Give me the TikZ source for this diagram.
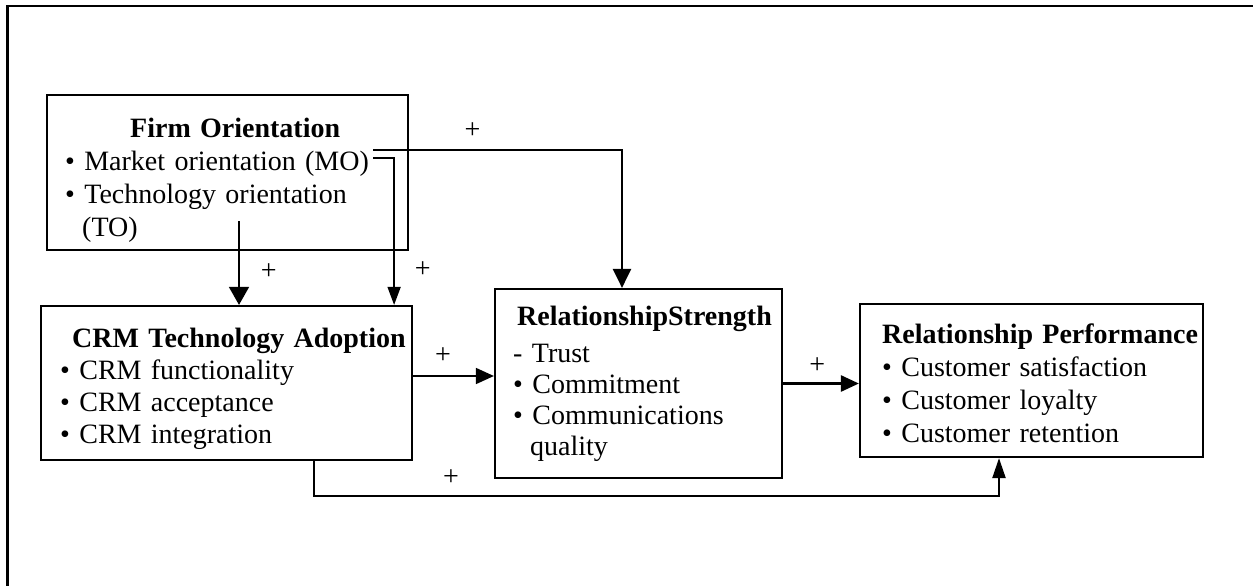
\documentclass[tikz,border=0pt]{standalone}
\usepackage{fontspec}
\setmainfont{Liberation Serif}
\usetikzlibrary{arrows.meta}

\tikzset{
    box/.style={draw, line width=2.2pt, inner sep=0pt},
    txt/.style={anchor=base west, align=left, inner sep=0pt,
        font=\fontsize{28}{33}\selectfont},
    flow/.style={-{Triangle[length=18pt,width=16pt]}, line width=1.6pt},
    plus/.style={inner sep=0pt, font=\fontsize{28}{28}\selectfont}
}

\begin{document}
\begin{tikzpicture}[x=1pt, y=-1pt]

    \useasboundingbox (0,0) rectangle (1253,586);
    \draw[line width=2.5pt] (7.5,600) -- (7.5,6) -- (1260,6);

    % boxes
    \node[box, minimum width=361, minimum height=155] (firm) at (227.5,172.5) {};
    \node[box, minimum width=371, minimum height=154] (crm) at (226.5,383) {};
    \node[box, minimum width=287, minimum height=189] (rs) at (638.5,383.5) {};
    \node[box, minimum width=343, minimum height=153] (rp) at (1031.5,380.5) {};

    % texts
    \node[txt, text width=320] (firm-txt) at (65,137) {%
        \hspace*{65pt}\textbf{Firm Orientation}\\
        \textbullet\ Market orientation (MO)\\
        \textbullet\ Technology orientation\\
        \hspace*{17pt}(TO)};
    \node[txt, text width=348, font=\fontsize{28}{32}\selectfont] (crm-txt) at (60,347) {%
        \hspace*{12pt}\textbf{CRM Technology Adoption}\\
        \textbullet\ CRM functionality\\
        \textbullet\ CRM acceptance\\
        \textbullet\ CRM integration};
    \node[txt, text width=272, font=\fontsize{28}{31}\selectfont] (rs-txt) at (513,325) {%
        \hspace*{4pt}\textbf{RelationshipStrength}\\[6pt]
        - Trust\\
        \textbullet\ Commitment\\
        \textbullet\ Communications\\
        \hspace*{17pt}quality};
    \node[txt, text width=330] (rp-txt) at (882,343) {%
        \textbf{Relationship Performance}\\
        \textbullet\ Customer satisfaction\\
        \textbullet\ Customer loyalty\\
        \textbullet\ Customer retention};

    % connectors
    \coordinate (mo-hi) at (373,150);
    \coordinate (mo-lo) at (373,158);
    \coordinate (to-out) at (239,221);
    \coordinate (crm-out) at ([yshift=7pt]crm.east);

    \draw[flow, line width=2.4pt, -{Triangle[length=19pt,width=18pt]}] (mo-hi) -| ([xshift=-16.5pt]rs.north)
        node[plus, pos=0.2, above=10pt] (plus-mo-rs) {+};
    \draw[flow, -{Triangle[length=18pt,width=13pt]}] (mo-lo) -| ([xshift=-19pt]crm.north east)
        node[plus, pos=0.88, right=20pt] (plus-mo-crm) {+};
    \draw[flow, -{Triangle[length=18pt,width=20pt]}] (to-out) -- (to-out |- crm.north)
        node[plus, pos=0.6, right=21pt] (plus-to-crm) {+};
    \draw[flow] (crm-out) -- (crm-out -| rs.west)
        node[plus, pos=0.37, above=12pt] (plus-crm-rs) {+};
    \draw[flow, line width=2.6pt] (rs.east) -- (rs.east -| rp.west)
        node[plus, pos=0.45, above=9pt] (plus-rs-rp) {+};
    \draw[flow, line width=2.2pt, -{Triangle[length=20pt,width=13pt]}] ([xshift=87.5pt]crm.south) -- ++(0,35)
        -| ([xshift=-32.5pt]rp.south)
        node[plus, pos=0.1, above=10pt] (plus-crm-rp) {+};

\end{tikzpicture}
\end{document}
